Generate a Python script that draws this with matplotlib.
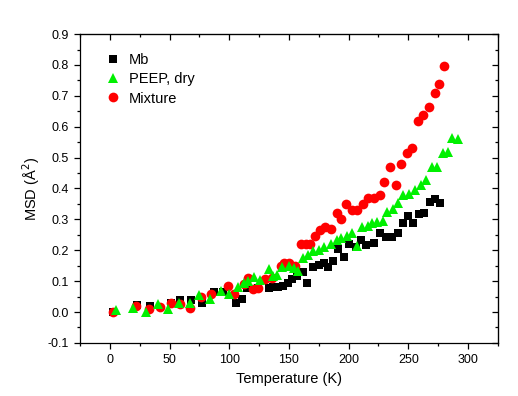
import matplotlib
matplotlib.use("Agg")
import matplotlib.pyplot as plt
from matplotlib.ticker import MultipleLocator

plt.rcParams["font.family"] = ["Liberation Sans", "DejaVu Sans"]

# Mb
mb_t = [3, 23, 34, 51, 59, 68, 77, 87, 95, 106, 111, 115, 124, 133, 137, 141,
        145, 149, 153, 157, 162, 165, 170, 175, 179, 183, 187, 191, 196, 200,
        206, 210, 215, 221, 226, 231, 236, 241, 246, 250, 254, 259, 263, 268,
        272, 277]
mb_msd = [0.0, 0.023, 0.02, 0.03, 0.04, 0.04, 0.03, 0.065, 0.065, 0.03, 0.042,
          0.077, 0.078, 0.078, 0.08, 0.08, 0.085, 0.095, 0.107, 0.116, 0.13,
          0.094, 0.146, 0.152, 0.16, 0.146, 0.165, 0.204, 0.178, 0.22, 0.21,
          0.233, 0.217, 0.223, 0.256, 0.243, 0.243, 0.256, 0.288, 0.31, 0.288,
          0.317, 0.32, 0.356, 0.366, 0.353]

# PEEP, dry
peep_t = [5, 19, 30, 40, 49, 58, 67, 75, 84, 93, 100, 107, 112, 116, 121, 126,
          133, 137, 140, 144, 150, 154, 158, 162, 166, 170, 175, 179, 185, 190,
          194, 199, 203, 207, 211, 216, 220, 224, 229, 232, 237, 241, 246, 251,
          256, 261, 265, 270, 274, 279, 283, 287, 292]
peep_msd = [0.006, 0.013, 0.0, 0.025, 0.01, 0.03, 0.03, 0.055, 0.042, 0.068,
            0.058, 0.08, 0.094, 0.10, 0.112, 0.105, 0.138, 0.116, 0.12, 0.146,
            0.149, 0.142, 0.133, 0.175, 0.186, 0.197, 0.20, 0.21, 0.22, 0.233,
            0.24, 0.246, 0.256, 0.214, 0.275, 0.28, 0.288, 0.29, 0.295, 0.324,
            0.333, 0.353, 0.379, 0.382, 0.395, 0.41, 0.427, 0.469, 0.469,
            0.515, 0.518, 0.563, 0.56]

# Mixture
mix_t = [3, 22, 33, 42, 51, 59, 67, 76, 85, 99, 104, 112, 116, 120, 124, 130,
         136, 143, 146, 150, 155, 160, 164, 168, 172, 176, 180, 185, 190, 194,
         198, 203, 207, 212, 216, 221, 226, 230, 235, 240, 244, 249, 253, 258,
         262, 267, 272, 276, 280]
mix_msd = [0.0, 0.02, 0.01, 0.016, 0.03, 0.026, 0.013, 0.05, 0.058, 0.084,
           0.06, 0.09, 0.11, 0.074, 0.078, 0.107, 0.11, 0.15, 0.16, 0.16, 0.15,
           0.22, 0.22, 0.22, 0.245, 0.265, 0.275, 0.27, 0.32, 0.30, 0.35, 0.33,
           0.33, 0.35, 0.37, 0.37, 0.38, 0.42, 0.47, 0.41, 0.48, 0.515, 0.53,
           0.62, 0.637, 0.663, 0.709, 0.738, 0.796]

fig = plt.figure(figsize=(5.18, 3.96), dpi=100)
ax = fig.add_axes([0.1544, 0.134, 0.8066, 0.780])

h_mb, = ax.plot(mb_t, mb_msd, "s", color="black", ms=6.0, mew=0, zorder=2)
h_mix, = ax.plot(mix_t, mix_msd, "o", color="red", ms=7.0, mew=0, zorder=3)
h_peep, = ax.plot(peep_t, peep_msd, "^", color="#00f000", ms=7.8, mew=0,
                  zorder=4)

ax.set_xlim(-25, 325)
ax.set_ylim(-0.1, 0.9)
ax.xaxis.set_major_locator(MultipleLocator(50))
ax.xaxis.set_minor_locator(MultipleLocator(25))
ax.yaxis.set_major_locator(MultipleLocator(0.1))
ax.yaxis.set_minor_locator(MultipleLocator(0.05))
ax.yaxis.set_major_formatter(plt.FuncFormatter(lambda v, p: f"{v:.1f}"))

ax.tick_params(which="both", direction="out", top=False, right=False,
               labelsize=9, width=0.9)
ax.tick_params(which="major", length=4.5)
ax.tick_params(which="minor", length=2.5)
for s in ax.spines.values():
    s.set_linewidth(0.9)

# mirrored inward ticks on the top and right edges
sec_x = ax.secondary_xaxis("top")
sec_x.xaxis.set_major_locator(MultipleLocator(50))
sec_x.xaxis.set_minor_locator(MultipleLocator(25))
sec_x.tick_params(which="both", direction="in", labeltop=False, width=0.9)
sec_x.tick_params(which="major", length=4.5)
sec_x.tick_params(which="minor", length=2.5)
sec_y = ax.secondary_yaxis("right")
sec_y.yaxis.set_major_locator(MultipleLocator(0.1))
sec_y.yaxis.set_minor_locator(MultipleLocator(0.05))
sec_y.tick_params(which="both", direction="in", labelright=False, width=0.9)
sec_y.tick_params(which="major", length=4.5)
sec_y.tick_params(which="minor", length=2.5)

ax.set_xlabel("Temperature (K)", fontsize=10.5)
ax.set_ylabel("MSD (Å$^2$)", fontsize=10.5)

ax.legend([h_mb, h_peep, h_mix], ["Mb", "PEEP, dry", "Mixture"],
          loc="upper left", bbox_to_anchor=(0.03, 0.98), frameon=False,
          fontsize=10.5, handletextpad=0.6, labelspacing=0.35,
          handlelength=1.0)

fig.savefig("out.png", dpi=100)
